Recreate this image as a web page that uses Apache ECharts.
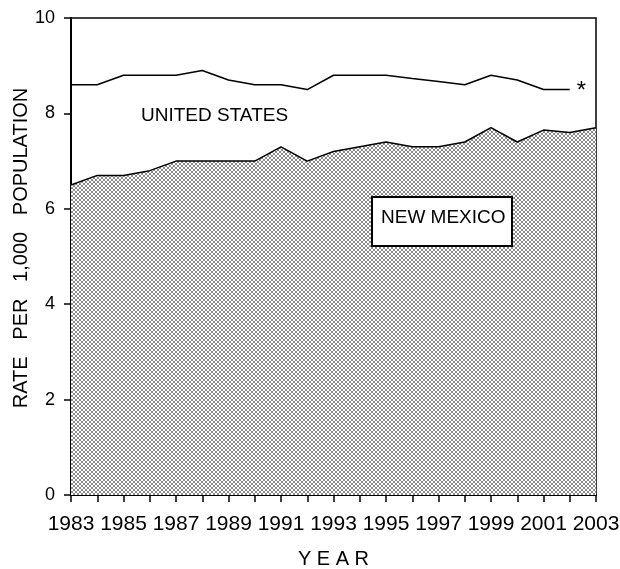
<!DOCTYPE html>
<html><head><meta charset="utf-8">
<script src="https://cdn.jsdelivr.net/npm/echarts@6/dist/echarts.min.js"></script>
<style>html,body{margin:0;padding:0;background:#fff}#c{width:620px;height:569px}</style>
</head><body><div id="c"></div>
<script>
const years = [1983,1984,1985,1986,1987,1988,1989,1990,1991,1992,1993,1994,1995,1996,1997,1998,1999,2000,2001,2002,2003];
const usRates = [8.6,8.6,8.8,8.8,8.8,8.9,8.7,8.6,8.6,8.5,8.8,8.8,8.8,8.73,8.67,8.6,8.8,8.7,8.5,8.5];
const nmRates = [6.5,6.7,6.7,6.8,7.0,7.0,7.0,7.0,7.3,7.0,7.2,7.3,7.4,7.3,7.3,7.4,7.7,7.4,7.65,7.6,7.7];
const yTicks = [0,2,4,6,8,10];
const labelUS = 'UNITED STATES';
const labelNM = 'NEW MEXICO';
const yTitle = 'RATE   PER   1,000   POPULATION';
const xTitle = 'Y E A R';

const FONT = '"Liberation Sans", Arial, sans-serif';

// crosshatch pattern
const pc = document.createElement('canvas');
pc.width = 4; pc.height = 4;
const pctx = pc.getContext('2d');
pctx.fillStyle = '#ffffff'; pctx.fillRect(0,0,4,4);
pctx.fillStyle = '#8c8c8c';
[[0,0],[1,1],[2,2],[3,3],[3,0],[2,1],[1,2],[0,3]].forEach(p => pctx.fillRect(p[0],p[1],1,1));

const chart = echarts.init(document.getElementById('c'), null, {renderer:'canvas'});
const usData = usRates.map((v,i) => [years[i], v]);
const nmData = nmRates.map((v,i) => [years[i], v]);

chart.setOption({
  animation: false,
  backgroundColor: '#fff',
  grid: {left: 71, right: 24, top: 18, bottom: 74, containLabel: false, outerBoundsMode: 'none',
    show: true, borderColor: '#000', borderWidth: 1.5, backgroundColor: 'transparent'},
  xAxis: {
    type: 'value', min: years[0], max: years[years.length-1], interval: 1,
    axisLine: {lineStyle: {color: '#000', width: 2}},
    axisTick: {show: true, inside: false, length: 7, lineStyle: {color: '#000', width: 1.5}},
    axisLabel: {color: '#000', fontSize: 21, fontFamily: FONT, margin: 19, showMinLabel: true, showMaxLabel: true,
      formatter: v => ((v - years[0]) % 2 === 0 ? String(v) : '')},
    splitLine: {show: false},
    name: xTitle, nameLocation: 'middle', nameGap: 54,
    nameTextStyle: {color: '#000', fontSize: 20, fontFamily: FONT}
  },
  yAxis: {
    type: 'value', min: yTicks[0], max: yTicks[yTicks.length-1], interval: 2,
    axisLine: {show: true, lineStyle: {color: '#000', width: 2}},
    axisTick: {show: true, inside: false, length: 7, lineStyle: {color: '#000', width: 1.5}},
    axisLabel: {color: '#000', fontSize: 18, fontFamily: FONT, margin: 16},
    splitLine: {show: false}
  },
  series: [
    {
      type: 'line', data: nmData, symbol: 'none', z: 2,
      lineStyle: {color: '#000', width: 1.5},
      areaStyle: {color: {image: pc, repeat: 'repeat'}, opacity: 1}
    },
    {
      type: 'line', data: usData, symbol: 'none', z: 3,
      lineStyle: {color: '#000', width: 1.5},
      endLabel: {show: true, formatter: '*', color: '#000', fontSize: 24, fontFamily: FONT, distance: 7, offset: [0, 2]}
    }
  ],
  graphic: [
    {type: 'text', x: 21, y: 248, rotation: Math.PI / 2, z: 10,
      style: {text: yTitle, fill: '#000', align: 'center', verticalAlign: 'middle', font: '20px "Liberation Sans", Arial, sans-serif'}},
    {type: 'text', left: 141, top: 106, z: 10,
      style: {text: labelUS, fill: '#000', font: '19px "Liberation Sans Narrow", "Liberation Sans", Arial, sans-serif'}},
    {type: 'rect', left: 371, top: 196, z: 10,
      shape: {width: 140, height: 49}, style: {fill: '#fff', stroke: '#000', lineWidth: 2}},
    {type: 'text', left: 381, top: 208, z: 11,
      style: {text: labelNM, fill: '#000', font: '19px "Liberation Sans", Arial, sans-serif'}}
  ]
});
</script>
</body></html>
